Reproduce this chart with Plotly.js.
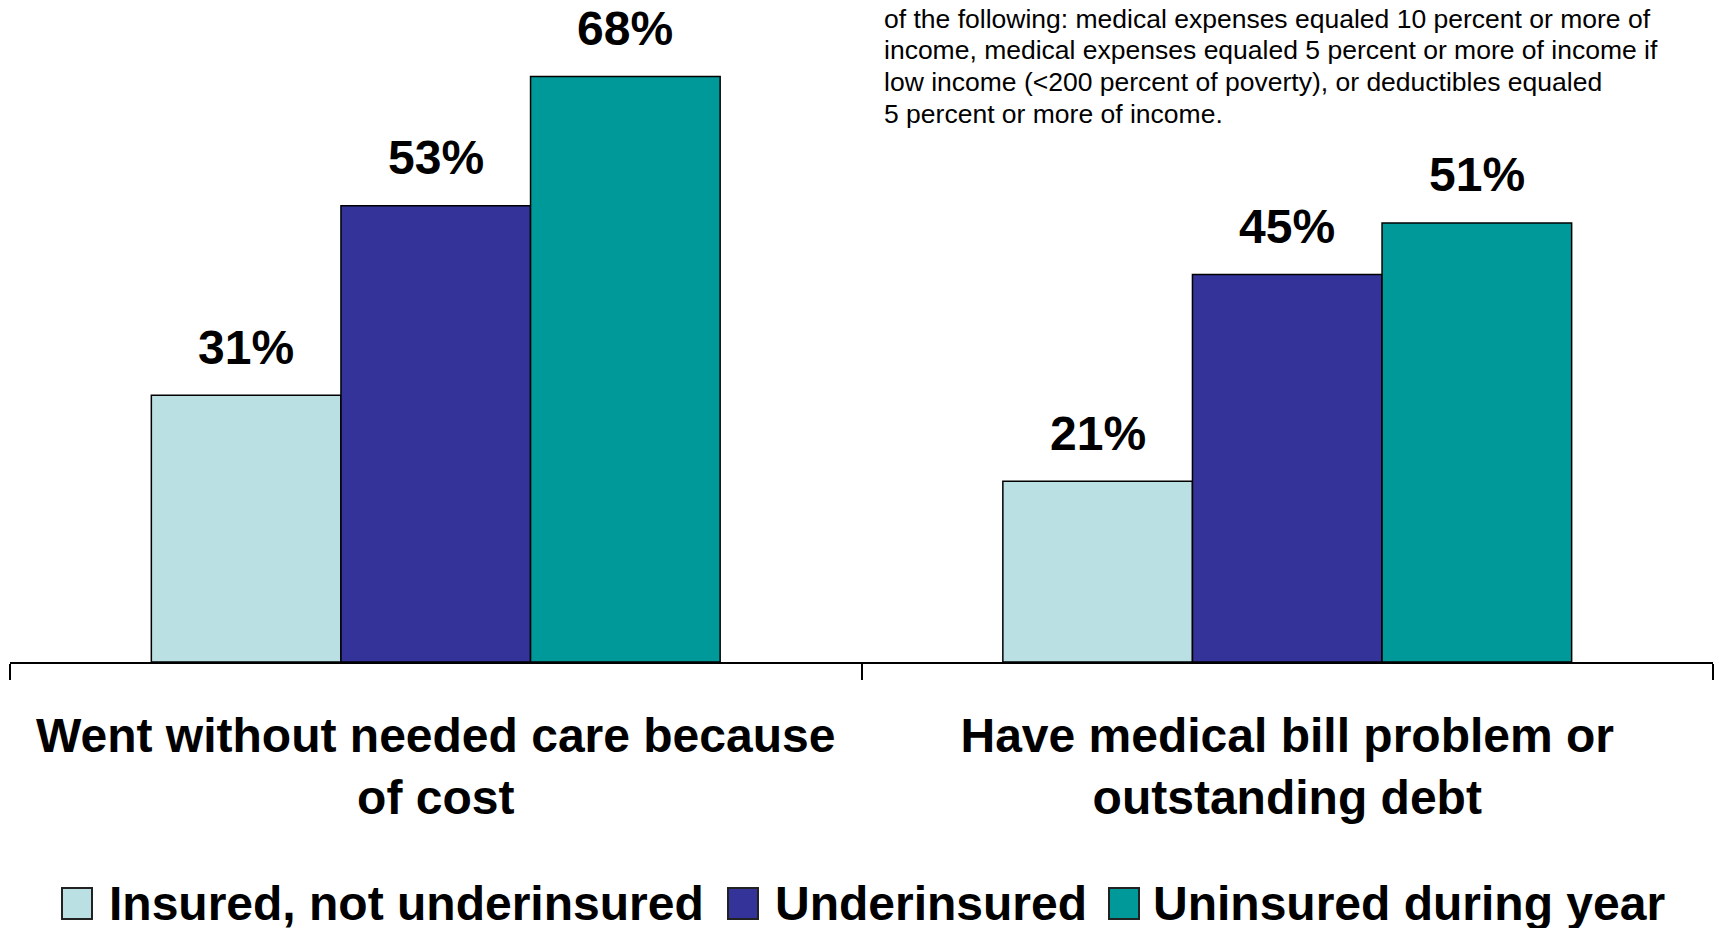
<!DOCTYPE html>
<html><head><meta charset="utf-8">
<script src="https://cdn.plot.ly/plotly-3.0.1.min.js"></script>
<style>
html,body{margin:0;padding:0;background:#fff;}
#chart{width:1719px;height:928px;}
</style></head><body><div id="chart"></div>
<script>
// ---- data ----
const categories = ["Went without needed care because<br>of cost", "Have medical bill problem or<br>outstanding debt"];
const seriesNames = ["Insured, not underinsured", "Underinsured", "Uninsured during year"];
const insuredValues = [31, 21];
const underinsuredValues = [53, 45];
const uninsuredValues = [68, 51];
const noteLines = [
  "of the following: medical expenses equaled 10 percent or more of",
  "income, medical expenses equaled 5 percent or more of income if",
  "low income (<200 percent of poverty), or deductibles equaled",
  "5 percent or more of income."
];

// ---- styles / layout ----
const seriesColors = ["#BBE0E3", "#333399", "#009999"];
const FONT = "Liberation Sans, Arial, Helvetica, sans-serif";
const BARGAP = 0.332;
const W = 1719, H = 928, ML = 10, MR = 6, MT = 0, MB = 266;
const plotW = W - ML - MR, plotH = H - MT - MB;
const px2x = p => (p - ML) / plotW;
const py2y = p => 1 - (p - MT) / plotH;
// legend item placement (pixels): swatch left edge, label left edge
const legendSwatchLeft = [62, 728, 1109];
const legendTextLeft = [107, 773, 1151];
const legendTop = 888, legendBottom = 919, swatchSize = 30;

const seriesValues = [insuredValues, underinsuredValues, uninsuredValues];

const traces = seriesValues.map((vals, k) => ({
  type: "bar",
  name: seriesNames[k],
  x: categories,
  y: vals,
  marker: {color: seriesColors[k], line: {color: "#000", width: 1.5}},
  showlegend: false,
  hoverinfo: "skip"
}));

const barW = (1 - BARGAP) / seriesValues.length;
const annotations = [];
seriesValues.forEach((vals, k) => {
  vals.forEach((v, i) => {
    annotations.push({
      xref: "x", yref: "y",
      x: i + (k - (seriesValues.length - 1) / 2) * barW,
      y: v, yanchor: "middle", xanchor: "center", yshift: 48,
      text: v + "%", showarrow: false,
      font: {family: FONT, size: 48, weight: 700, color: "#000"}
    });
  });
});
const noteTop = 18.6, noteStep = 31.8;
noteLines.forEach((t, j) => {
  annotations.push({
    xref: "paper", yref: "paper",
    x: px2x(882), xanchor: "left",
    y: py2y(noteTop + j * noteStep), yanchor: "middle",
    text: t, showarrow: false,
    font: {family: FONT, size: 26.5, color: "#000"}
  });
});

// manual legend
const shapes = [];
seriesNames.forEach((n, k) => {
  shapes.push({
    type: "rect", xref: "paper", yref: "paper",
    x0: px2x(legendSwatchLeft[k]), x1: px2x(legendSwatchLeft[k] + swatchSize),
    y0: py2y(legendTop), y1: py2y(legendBottom),
    fillcolor: seriesColors[k], line: {color: "#222", width: 2}
  });
  annotations.push({
    xref: "paper", yref: "paper",
    x: px2x(legendTextLeft[k]), xanchor: "left",
    y: py2y((legendTop + legendBottom) / 2), yanchor: "middle",
    text: n, showarrow: false,
    font: {family: FONT, size: 48, weight: 700, color: "#000"}
  });
});

const layout = {
  width: W, height: H,
  margin: {l: ML, r: MR, t: MT, b: MB, autoexpand: false},
  paper_bgcolor: "#fff", plot_bgcolor: "#fff",
  barmode: "group", bargap: BARGAP, bargroupgap: 0,
  showlegend: false,
  xaxis: {
    type: "category", showline: true, linecolor: "#000", linewidth: 2,
    ticks: "outside", ticklen: 16, tickwidth: 2, tickcolor: "#000",
    tickson: "boundaries", showgrid: false, zeroline: false,
    ticklabelstandoff: 30,
    tickfont: {family: FONT, size: 48, weight: 700, color: "#000"}
  },
  yaxis: {range: [0, 76.9], visible: false, showgrid: false, zeroline: false, fixedrange: true},
  annotations: annotations,
  shapes: shapes
};

Plotly.newPlot("chart", traces, layout, {staticPlot: true, displayModeBar: false});
</script></body></html>
